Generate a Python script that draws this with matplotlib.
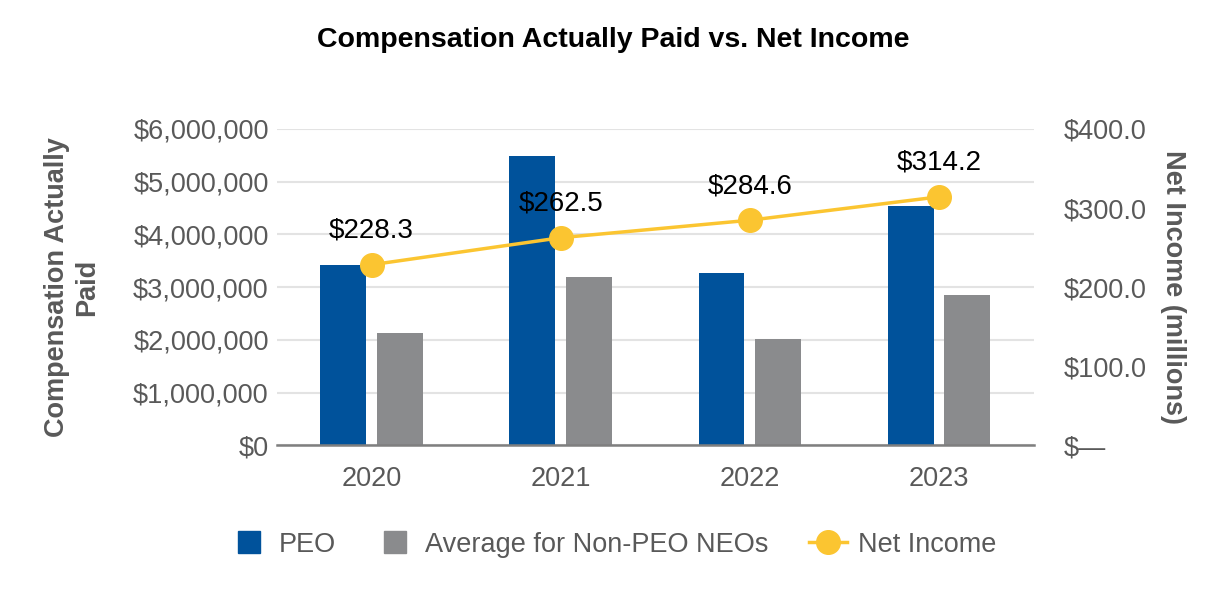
import numpy as np
import matplotlib.pyplot as plt
from matplotlib.lines import Line2D
from matplotlib.ticker import FuncFormatter

plt.rcParams['font.family'] = ['Liberation Sans', 'DejaVu Sans']

years = ['2020', '2021', '2022', '2023']
peo = [3420000, 5480000, 3270000, 4530000]
non_peo = [2120000, 3190000, 2010000, 2850000]
net_income = [228.3, 262.5, 284.6, 314.2]

blue = '#00529b'
grey = '#8a8b8d'
yellow = '#fbc531'
txt = '#595959'

fig = plt.figure(figsize=(12.26, 6), dpi=100)
ax = fig.add_axes([0.226, 0.258, 0.617, 0.527])
ax2 = ax.twinx()

x = np.arange(len(years))
w = 0.243
off = 0.15
ax.bar(x - off, peo, w, color=blue, zorder=2)
ax.bar(x + off, non_peo, w, color=grey, zorder=2)

ax.set_xlim(-0.5, 3.5)
ax.set_ylim(0, 6000000)
ax.set_yticks(np.arange(0, 6000001, 1000000))
ax.yaxis.set_major_formatter(FuncFormatter(lambda v, p: f'${v:,.0f}'))
ax.set_xticks(x)
ax.set_xticklabels(years)
ax.grid(axis='y', color='#e3e3e3', linewidth=1.5, zorder=0)
ax.set_axisbelow(True)
for s in ['top', 'right', 'left']:
    ax.spines[s].set_visible(False)
ax.spines['bottom'].set_color('#7f7f7f')
ax.spines['bottom'].set_linewidth(1.8)
ax.tick_params(axis='both', length=0, labelsize=19.5, labelcolor=txt)
ax.tick_params(axis='x', pad=15)
ax.tick_params(axis='y', pad=6)
ax.set_ylabel('Compensation Actually\nPaid', fontsize=19.5, fontweight='bold',
              color=txt, linespacing=1.2, labelpad=24)

ax2.plot(x, net_income, color=yellow, linewidth=2.5, marker='o',
         markersize=17, zorder=3)
for xi, v in zip(x, net_income):
    ax2.annotate(f'${v:.1f}', (xi, v), xytext=(0, 15), textcoords='offset points',
                 ha='center', va='bottom', fontsize=20, color='black')
ax2.set_ylim(0, 400)
ax2.set_yticks(np.arange(0, 401, 100))
ax2.yaxis.set_major_formatter(FuncFormatter(lambda v, p: '$\u2014' if v == 0 else f'${v:.1f}'))
for s in ['top', 'right', 'left', 'bottom']:
    ax2.spines[s].set_visible(False)
ax2.tick_params(axis='y', length=0, labelsize=19.5, labelcolor=txt, pad=22)
ax2.set_ylabel('Net Income (millions)', fontsize=19.5, fontweight='bold',
               color=txt, rotation=270, labelpad=28)

fig.suptitle('Compensation Actually Paid vs. Net Income', fontsize=20.5,
             fontweight='bold', y=0.955)

handles = [
    Line2D([], [], linestyle='none', marker='s', markersize=16, color=blue),
    Line2D([], [], linestyle='none', marker='s', markersize=16, color=grey),
    Line2D([], [], color=yellow, linewidth=2.5, marker='o', markersize=17),
]
labels = ['PEO', 'Average for Non-PEO NEOs', 'Net Income']
fig.legend(handles, labels, loc='center', bbox_to_anchor=(0.5, 0.092),
           ncol=3, frameon=False, fontsize=19.5, handlelength=1.4,
           handletextpad=0.4, columnspacing=1.5, labelcolor=txt)

fig.savefig('out.png', dpi=100)
